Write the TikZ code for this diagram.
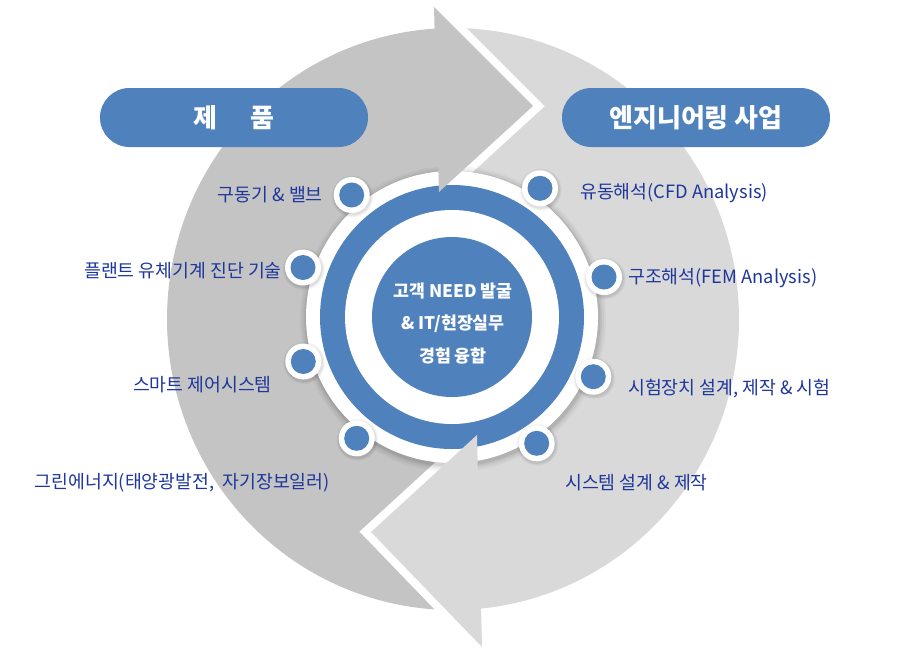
\documentclass[tikz,border=0pt]{standalone}
\usepackage{fontspec}
\setmainfont{Noto Sans CJK KR}
\usetikzlibrary{calc}
\definecolor{bl}{RGB}{79,129,189}
\definecolor{dg}{RGB}{196,196,196}
\definecolor{lg}{RGB}{217,217,217}
\definecolor{tx}{RGB}{30,55,155}
\tikzset{
  pill/.style={fill=bl, rounded corners=29.5pt, minimum width=268pt, minimum height=59pt, inner sep=0pt, text=white, font=\fontsize{26}{30}\selectfont\bfseries},
  lbl/.style={inner sep=0pt, text=tx, font=\fontsize{18.3}{22}\selectfont},
  dotring/.style={circle, fill=white, minimum size=36pt, inner sep=0pt},
  dotcore/.style={circle, fill=bl, minimum size=25pt, inner sep=0pt},
  headgap/.style={white, line width=16pt, line join=miter, miter limit=10, line cap=butt}
}
\begin{document}
\begin{tikzpicture}[x=1pt,y=-1pt]
\useasboundingbox (0,0) rectangle (900,654);
\fill[white] (0,0) rectangle (900,654);
% left arrow shaft
\fill[dg] plot[domain=86.6:266.6,samples=120] ({453+286*cos(\x)},{319+291*sin(\x)})
  -- plot[domain=266.6:86.6,samples=80] ({453+135*cos(\x)},{319+135*sin(\x)}) -- cycle;
% right arrow shaft
\fill[lg] plot[domain=-93.4:84.6,samples=120] ({453+286*cos(\x)},{319+291*sin(\x)})
  -- plot[domain=84.6:-93.4,samples=80] ({453+135*cos(\x)},{319+135*sin(\x)}) -- cycle;
% white gaps around arrow heads
\draw[headgap] (434,7) -- (533,106) -- (439,192);
\draw[headgap] (477,435) -- (371,532) -- (482,647);
% center halo with soft shadow
\coordinate (C) at (452,317);
\foreach \r/\o in {153/0.03,151/0.04,149/0.05,147.5/0.06}
  \fill[black, opacity=\o] ($(C)+(1,2)$) circle[radius=\r pt];
\fill[white] (C) circle[radius=146pt];
% dots
\foreach \n/\px/\py in {d1/351.7/195, d2/303/267.5, d3/303.3/361.5, d4/356.7/438.3,
                   d5/540/188.3, d6/604/277, d7/593.3/376.7, d8/536.7/443.3}{
  \foreach \r/\o in {21/0.03,20/0.04,19/0.05}
    \fill[black, opacity=\o] (\px+0.8,\py+1.5) circle[radius=\r pt];
  \node[dotring] (\n r) at (\px,\py) {};
  \node[dotcore] (\n) at (\px,\py) {};
}
% rings
\fill[bl] (C) circle[radius=132pt];
\fill[white] (C) circle[radius=107pt];
\fill[bl] (C) circle[radius=80pt];
% arrow heads
\fill[dg] (434,7) -- (533,106) -- (439,192) -- cycle;
\fill[lg] (477,435) -- (371,532) -- (482,647) -- cycle;
% header pills
\node[pill] (prod) at (234,117.5) {제\hspace{33pt}품};
\node[pill] (eng) at (696,117.5) {엔지니어링 사업};
% center text
\node[align=center, text=white, inner sep=0pt, font=\fontsize{17.3}{32.5}\selectfont\bfseries] (core) at (453,323.5)
  {고객 NEED 발굴\\\& IT/현장실무\\경험 융합};
% left labels
\node[lbl, anchor=east] (l1) at (323,195) {구동기 \& 밸브};
\node[lbl, anchor=east] (l2) at (282,271) {플랜트 유체기계 진단 기술};
\node[lbl, anchor=east] (l3) at (272,385) {스마트 제어시스템};
\node[lbl, anchor=east] (l4) at (330,483) {그린에너지(태양광발전,\ \ 자기장보일러)};
% right labels
\node[lbl, anchor=west] (r1) at (580,193.3) {유동해석(CFD Analysis)};
\node[lbl, anchor=west] (r2) at (628,278.5) {구조해석(FEM Analysis)};
\node[lbl, anchor=west] (r3) at (628,388.3) {시험장치 설계, 제작 \& 시험};
\node[lbl, anchor=west] (r4) at (565,482.7) {시스템 설계 \& 제작};
\end{tikzpicture}
\end{document}
